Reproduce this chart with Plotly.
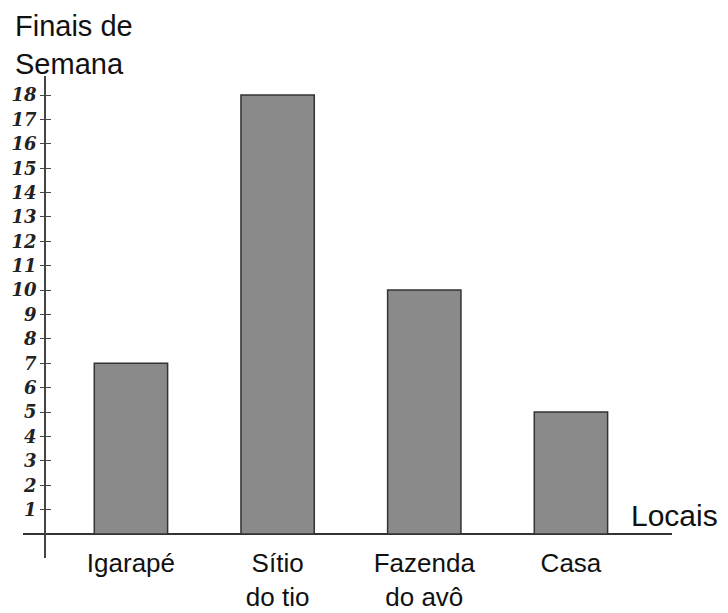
import plotly.graph_objects as go

categories = ["Igarapé", "Sítio<br>do tio", "Fazenda<br>do avô", "Casa"]
weekends = [7, 18, 10, 5]
tick_values = list(range(1, 19))
tick_labels = [str(v) for v in tick_values]

# the page body has an 8px default margin, so the figure is sized to fit
W, H = 720, 605
L, R, T, B = 15, 56, 68, 55
plot_w = W - L - R
plot_h = H - T - B
SANS = "Liberation Sans, Arial, sans-serif"

fig = go.Figure()
fig.add_trace(go.Bar(
    x=categories, y=weekends,
    marker=dict(color="#8a8a8a", line=dict(color="#333333", width=1.5)),
    width=0.5,
    hoverinfo="x+y",
))

y_range = [-0.984, 18.78]
y_axis_pos = 22 / plot_w
x_axis_pos = 24 / plot_h

fig.update_layout(
    width=W, height=H,
    margin=dict(l=L, r=R, t=T, b=B, pad=0, autoexpand=False),
    paper_bgcolor="white", plot_bgcolor="white",
    showlegend=False,
    font=dict(family=SANS, color="#111111"),
    xaxis=dict(
        type="category",
        range=[-0.736, 3.689],
        showgrid=False, zeroline=False, showline=False,
        ticks="",
        anchor="free", position=x_axis_pos,
        tickfont=dict(size=26, family=SANS, color="#111111"),
        ticklabelstandoff=11,
        automargin=False,
        fixedrange=True,
    ),
    yaxis=dict(
        range=y_range,
        tickmode="array", tickvals=tick_values, ticktext=tick_labels,
        showgrid=False,
        zeroline=True, zerolinecolor="#333333", zerolinewidth=2,
        showline=True, linecolor="#444444", linewidth=1.5,
        ticks="outside", ticklen=4, tickcolor="#444444", tickwidth=1.3,
        anchor="free", position=y_axis_pos,
        tickfont=dict(size=18, family="DejaVu Serif, serif", color="#222222",
                      weight="bold", style="italic"),
        ticklabelstandoff=0,
        automargin=False,
        fixedrange=True,
    ),
    yaxis2=dict(
        range=y_range, overlaying="y",
        tickmode="array", tickvals=tick_values,
        showticklabels=False, showgrid=False, zeroline=False, showline=False,
        ticks="inside", ticklen=5, tickcolor="#444444", tickwidth=1.3,
        anchor="free", position=y_axis_pos,
        automargin=False,
        fixedrange=True,
    ),
    annotations=[
        dict(
            text="Finais de<br>Semana", xref="paper", yref="paper",
            x=(5 - L) / plot_w, xanchor="left", align="left",
            y=1 + T / plot_h, yanchor="top",
            showarrow=False,
            font=dict(size=29, family=SANS, color="#111111"),
        ),
        dict(
            text="Locais", xref="paper", yref="paper",
            x=(621 - L) / plot_w, xanchor="left",
            y=(43) / plot_h, yanchor="middle",
            showarrow=False,
            font=dict(size=30, family=SANS, color="#111111"),
        ),
    ],
)

# invisible trace to anchor the overlay axis
fig.add_trace(go.Scatter(x=[categories[0]], y=[None], yaxis="y2", showlegend=False, hoverinfo="skip"))

fig.write_html("out.html")
